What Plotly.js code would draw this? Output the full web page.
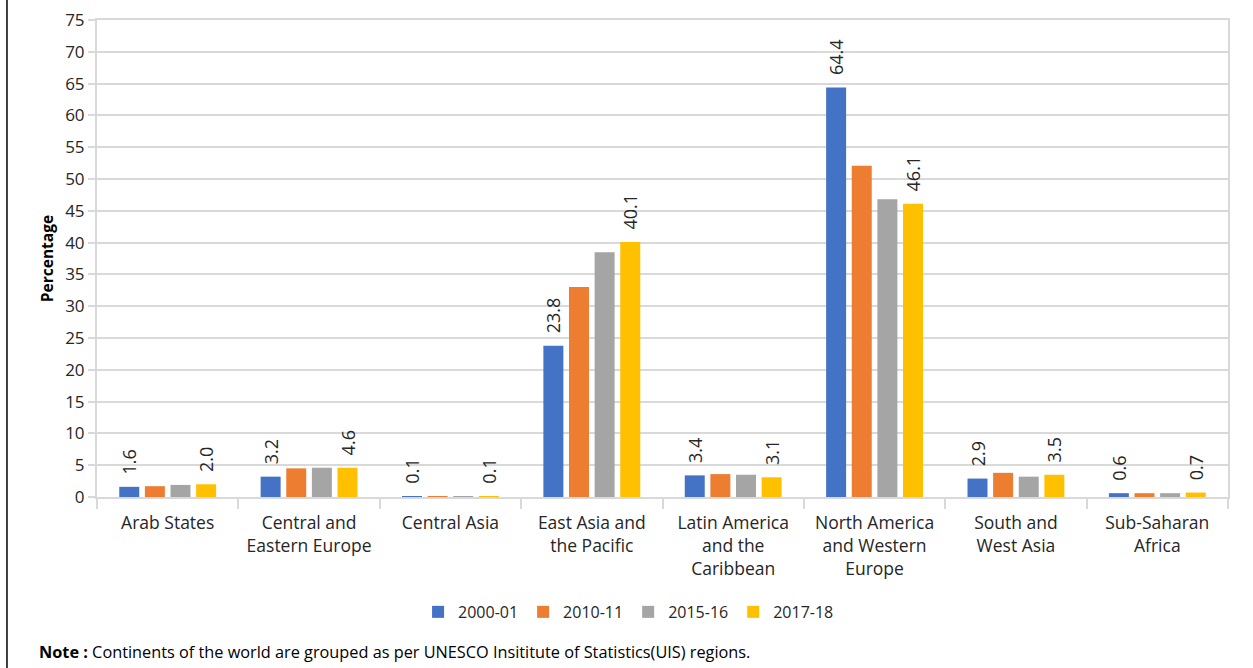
<!DOCTYPE html>
<html>
<head>
<meta charset="utf-8">
<script src="https://cdn.plot.ly/plotly-3.0.1.min.js"></script>
<style>html,body{margin:0;padding:0;background:#fff;}#chart{width:1253px;height:668px;}</style>
</head>
<body>
<div id="chart"></div>
<script>
const categories = [
  "Arab States",
  "Central and<br>Eastern Europe",
  "Central Asia",
  "East Asia and<br>the Pacific",
  "Latin America<br>and the<br>Caribbean",
  "North America<br>and Western<br>Europe",
  "South and<br>West Asia",
  "Sub-Saharan<br>Africa"
];
const seriesNames = ["2000-01", "2010-11", "2015-16", "2017-18"];
const s2000 = [1.6, 3.2, 0.1, 23.8, 3.4, 64.4, 2.9, 0.6];
const s2010 = [1.7, 4.5, 0.1, 33.0, 3.6, 52.1, 3.8, 0.6];
const s2015 = [1.9, 4.6, 0.1, 38.5, 3.5, 46.8, 3.2, 0.6];
const s2017 = [2.0, 4.6, 0.1, 40.1, 3.1, 46.1, 3.5, 0.7];
const colors = ["#4472C4", "#ED7D31", "#A5A5A5", "#FFC000"];
const yTicks = [0,5,10,15,20,25,30,35,40,45,50,55,60,65,70,75];

const allSeries = [s2000, s2010, s2015, s2017];
const labelled = [true, false, false, true];
const labelFont = {family: "Open Sans, DejaVu Sans, sans-serif", size: 18, color: "#262626"};

const data = allSeries.map((vals, i) => {
  const t = {
    type: "bar",
    name: seriesNames[i],
    x: categories,
    y: vals,
    marker: {color: colors[i]},
    hoverinfo: "y+name"
  };
  if (labelled[i]) {
    t.text = vals.map(v => v.toFixed(1));
    t.texttemplate = "\u00A0\u00A0%{text}";
    t.textposition = "outside";
    t.textangle = -90;
    t.constraintext = "none";
    t.cliponaxis = false;
    t.textfont = labelFont;
    t.outsidetextfont = labelFont;
  }
  return t;
});

const layout = {
  width: 1253,
  height: 668,
  margin: {l: 97, r: 25, t: 20, b: 171},
  paper_bgcolor: "#ffffff",
  plot_bgcolor: "#ffffff",
  barmode: "group",
  bargap: 0.275,
  bargroupgap: 0.22,
  showlegend: true,
  legend: {
    orientation: "h",
    x: 0.47, xanchor: "center",
    y: -0.241, yanchor: "middle",
    font: {family: "Open Sans, sans-serif", size: 16, color: "#262626"},
    traceorder: "normal"
  },
  xaxis: {
    type: "category",
    tickson: "boundaries",
    ticks: "outside",
    ticklen: 10,
    tickcolor: "#d9d9d9",
    tickwidth: 2,
    showline: true,
    linecolor: "#d9d9d9",
    linewidth: 2,
    mirror: true,
    showgrid: false,
    ticklabelstandoff: 9,
    tickfont: {family: "Open Sans, DejaVu Sans, sans-serif", size: 17.5, color: "#262626"},
    fixedrange: true
  },
  yaxis: {
    range: [0, 75],
    tickvals: yTicks,
    ticktext: yTicks.map(String),
    ticks: "outside",
    ticklen: 7,
    tickcolor: "#d9d9d9",
    tickwidth: 2,
    showline: true,
    linecolor: "#d9d9d9",
    linewidth: 2,
    mirror: true,
    showgrid: true,
    gridcolor: "#d9d9d9",
    gridwidth: 2,
    zeroline: false,
    tickfont: {family: "Open Sans, DejaVu Sans, sans-serif", size: 17, color: "#262626"},
    title: {text: "<b>Percentage</b>", font: {family: "Open Sans, DejaVu Sans, sans-serif", size: 15.5, color: "#000"}, standoff: 8},
    fixedrange: true
  },
  shapes: [
    {type: "line", xref: "paper", yref: "paper", x0: -0.0796, x1: -0.0796, y0: -0.36, y1: 1.05, line: {color: "#000", width: 1.5}}
  ],
  annotations: [
    {
      xref: "paper", yref: "paper",
      x: -0.053, y: -0.325, xanchor: "left", yanchor: "middle",
      showarrow: false,
      align: "left",
      text: "<b>Note :</b> Continents of the world are grouped as per UNESCO Insititute of Statistics(UIS) regions.",
      font: {family: "Open Sans, sans-serif", size: 16.3, color: "#000"}
    }
  ]
};

Plotly.newPlot("chart", data, layout, {displayModeBar: false, responsive: false});
</script>
</body>
</html>
